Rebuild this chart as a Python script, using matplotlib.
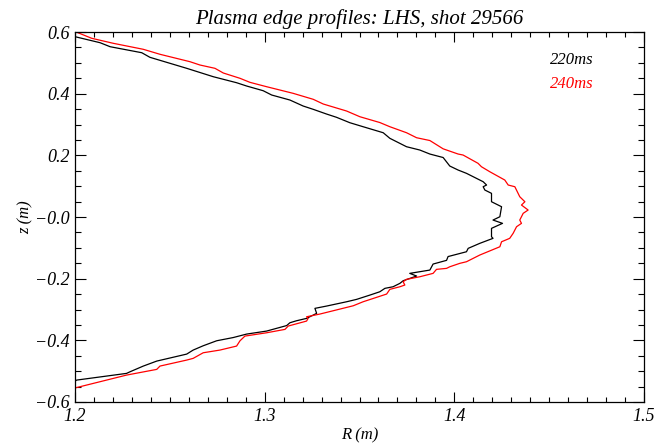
import matplotlib
matplotlib.use("Agg")
import matplotlib.pyplot as plt

# 220 ms edge profile (R in m, z in m)
R_220 = [1.2000, 1.2132, 1.2185, 1.2352, 1.2395, 1.2589, 1.2729, 1.2852, 1.2905, 1.2992,
         1.3037, 1.3133, 1.3203, 1.3256, 1.3326, 1.3379, 1.3449, 1.3519, 1.3625, 1.3660,
         1.3748, 1.3818, 1.3871, 1.3941, 1.3976, 1.4020, 1.4064, 1.4152, 1.4170, 1.4152,
         1.4161, 1.4196, 1.4196, 1.4249, 1.4240, 1.4204, 1.4254, 1.4196, 1.4196, 1.4204,
         1.4134, 1.4073, 1.4064, 1.3967, 1.3959, 1.3888, 1.3871, 1.3765, 1.3801, 1.3730,
         1.3713, 1.3677, 1.3634, 1.3607, 1.3555, 1.3485, 1.3432, 1.3326, 1.3265, 1.3274,
         1.3221, 1.3168, 1.3133, 1.3116, 1.3010, 1.2905, 1.2834, 1.2747, 1.2676, 1.2623,
         1.2589, 1.2431, 1.2360, 1.2290, 1.2272, 1.2009, 1.1990]
z_220 = [0.5848, 0.5653, 0.5523, 0.5328, 0.5179, 0.4822, 0.4550, 0.4355, 0.4248, 0.4096,
         0.3956, 0.3794, 0.3599, 0.3492, 0.3340, 0.3233, 0.3058, 0.2928, 0.2733, 0.2552,
         0.2279, 0.2172, 0.2042, 0.1929, 0.1653, 0.1523, 0.1416, 0.1144, 0.1037, 0.0982,
         0.0874, 0.0767, 0.0495, 0.0333, 0.0008, -0.0099, -0.0206, -0.0368, -0.0640, -0.0692,
         -0.0855, -0.1017, -0.1127, -0.1283, -0.1406, -0.1526, -0.1721, -0.1828, -0.1915, -0.2068,
         -0.2152, -0.2262, -0.2314, -0.2425, -0.2532, -0.2671, -0.2749, -0.2889, -0.2963, -0.3125,
         -0.3288, -0.3365, -0.3430, -0.3521, -0.3700, -0.3797, -0.3910, -0.4014, -0.4176, -0.4316,
         -0.4446, -0.4673, -0.4835, -0.5020, -0.5072, -0.5289, -0.5360]

# 240 ms edge profile
R_240 = [1.1990, 1.2088, 1.2202, 1.2360, 1.2448, 1.2606, 1.2659, 1.2738, 1.2782, 1.2870,
         1.2922, 1.3010, 1.3150, 1.3256, 1.3309, 1.3432, 1.3502, 1.3607, 1.3660, 1.3748,
         1.3801, 1.3871, 1.3941, 1.4020, 1.4046, 1.4125, 1.4143, 1.4187, 1.4266, 1.4284,
         1.4319, 1.4345, 1.4372, 1.4354, 1.4389, 1.4363, 1.4345, 1.4354, 1.4328, 1.4310,
         1.4292, 1.4249, 1.4240, 1.4134, 1.4064, 1.4029, 1.3976, 1.3959, 1.3906, 1.3888,
         1.3818, 1.3748, 1.3730, 1.3739, 1.3713, 1.3660, 1.3643, 1.3590, 1.3519, 1.3467,
         1.3397, 1.3291, 1.3221, 1.3229, 1.3221, 1.3124, 1.3107, 1.3010, 1.2896, 1.2870,
         1.2852, 1.2764, 1.2676, 1.2623, 1.2589, 1.2448, 1.2431, 1.2272, 1.1990]
z_240 = [0.6040, 0.5796, 0.5633, 0.5439, 0.5277, 0.5037, 0.4929, 0.4822, 0.4670, 0.4498,
         0.4368, 0.4226, 0.4011, 0.3817, 0.3664, 0.3437, 0.3252, 0.3064, 0.2928, 0.2733,
         0.2571, 0.2480, 0.2211, 0.2042, 0.2010, 0.1741, 0.1630, 0.1468, 0.1199, 0.1037,
         0.0982, 0.0657, 0.0495, 0.0388, 0.0226, 0.0119, -0.0099, -0.0206, -0.0316, -0.0530,
         -0.0692, -0.0803, -0.0965, -0.1234, -0.1451, -0.1503, -0.1614, -0.1666, -0.1698, -0.1828,
         -0.1938, -0.2022, -0.2100, -0.2207, -0.2262, -0.2347, -0.2499, -0.2606, -0.2749, -0.2879,
         -0.2986, -0.3148, -0.3236, -0.3288, -0.3375, -0.3537, -0.3645, -0.3755, -0.3862, -0.4014,
         -0.4186, -0.4316, -0.4403, -0.4585, -0.4640, -0.4835, -0.4942, -0.5127, -0.5560]

x_ticks = [1.2, 1.3, 1.4, 1.5]
x_tick_labels = ["1.2", "1.3", "1.4", "1.5"]
y_ticks = [-0.6, -0.4, -0.2, 0.0, 0.2, 0.4, 0.6]
y_tick_labels = ["\u22120.6", "\u22120.4", "\u22120.2", "\u22120.0", "0.2", "0.4", "0.6"]
series_labels = ["220ms", "240ms"]
series_colors = ["black", "red"]

plt.rcParams["font.family"] = ["Liberation Serif", "DejaVu Serif"]
plt.rcParams["font.style"] = "italic"

fig = plt.figure(figsize=(6.67, 4.46), dpi=100)
ax = fig.add_axes([75 / 667, 1 - 402 / 446, (644 - 75) / 667, (402 - 32) / 446])

ax.plot(R_220, z_220, color=series_colors[0], lw=0.9)
ax.plot(R_240, z_240, color=series_colors[1], lw=0.9)

ax.set_xlim(1.2, 1.5)
ax.set_ylim(-0.6, 0.6)
ax.set_xticks(x_ticks)
ax.set_xticklabels(x_tick_labels, fontsize=13, style="italic")
ax.set_yticks(y_ticks)
ax.set_yticklabels(y_tick_labels, fontsize=13, style="italic")
ax.set_xticks([1.2 + 0.01 * i for i in range(31)], minor=True)
ax.set_yticks([-0.6 + 0.05 * i for i in range(25)], minor=True)

ax.tick_params(axis="x", which="major", direction="in", length=7, width=0.8,
               top=True, bottom=True, pad=4)
ax.tick_params(axis="x", which="minor", direction="in", length=3.5, width=0.8,
               top=True, bottom=True)
ax.tick_params(axis="y", which="major", direction="in", length=8, width=0.8,
               left=True, right=True, pad=4)
ax.tick_params(axis="y", which="minor", direction="in", length=4, width=0.8,
               left=True, right=True)
for s in ax.spines.values():
    s.set_linewidth(0.9)

ax.set_xlabel("R (m)", fontsize=12, style="italic", labelpad=2)
ax.set_ylabel("z (m)", fontsize=12, style="italic", labelpad=1)
ax.set_title("Plasma edge profiles: LHS, shot 29566", fontsize=15, style="italic", pad=6)

ax.text(0.911, 0.925, series_labels[0], transform=ax.transAxes, color=series_colors[0],
        fontsize=12, style="italic", ha="right", va="center")
ax.text(0.911, 0.86, series_labels[1], transform=ax.transAxes, color=series_colors[1],
        fontsize=12, style="italic", ha="right", va="center")

fig.savefig("out.png", dpi=100)
